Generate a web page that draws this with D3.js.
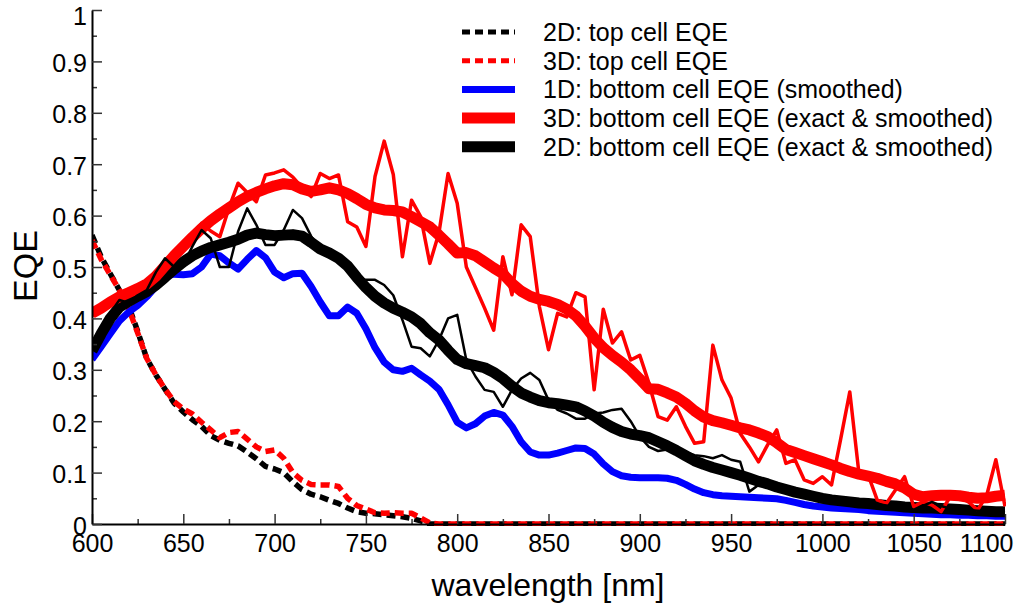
<!DOCTYPE html>
<html>
<head>
<meta charset="utf-8">
<script src="https://cdn.jsdelivr.net/npm/d3@7"></script>
<style>
  html, body { margin: 0; padding: 0; background: #fff; }
  svg { display: block; font-family: "Liberation Sans", Arial, sans-serif; }
</style>
</head>
<body>
<svg id="chart" width="1020" height="603"></svg>
<script>
// ---------------- DATA ----------------
const wavelengths = [600,605,610,615,620,625,630,635,640,645,650,655,660,665,670,675,680,685,690,695,
700,705,710,715,720,725,730,735,740,745,750,755,760,765,770,775,780,785,790,795,
800,805,810,815,820,825,830,835,840,845,850,855,860,865,870,875,880,885,890,895,
900,905,910,915,920,925,930,935,940,945,950,955,960,965,970,975,980,985,990,995,
1000,1005,1010,1015,1020,1025,1030,1035,1040,1045,1050,1055,1060,1065,1070,1075,1080,1085,1090,1095,1100];

const topCell2D = [0.562,0.520,0.487,0.455,0.425,0.375,0.322,0.290,0.262,0.235,0.218,0.203,0.190,0.172,0.163,0.157,0.152,0.140,0.127,0.112,
0.107,0.100,0.082,0.067,0.058,0.053,0.046,0.040,0.031,0.024,0.021,0.020,0.018,0.016,0.014,0.011,0.006,0,0,0,
0,0,0,0,0,0,0,0,0,0,0,0,0,0,0,0,0,0,0,0,
0,0,0,0,0,0,0,0,0,0,0,0,0,0,0,0,0,0,0,0,
0,0,0,0,0,0,0,0,0,0,0,0,0,0,0,0,0,0,0,0,0];

const topCell3D = [0.552,0.515,0.485,0.455,0.420,0.372,0.322,0.290,0.262,0.238,0.224,0.214,0.198,0.183,0.168,0.178,0.180,0.165,0.150,0.141,
0.144,0.128,0.100,0.085,0.077,0.076,0.076,0.073,0.050,0.036,0.029,0.022,0.021,0.022,0.021,0.021,0.012,0.002,0,0,
0,0,0,0,0,0,0,0,0,0,0,0,0,0,0,0,0,0,0,0,
0,0,0,0,0,0,0,0,0,0,0,0,0,0,0,0,0,0,0,0,
0,0,0,0,0,0,0,0,0,0,0,0,0,0,0,0,0,0,0,0,0];

const bottom1DSmoothed = [0.320,0.345,0.370,0.395,0.412,0.425,0.442,0.462,0.482,0.486,0.485,0.487,0.500,0.525,0.522,0.508,0.496,0.515,0.532,0.518,
0.490,0.479,0.487,0.488,0.462,0.432,0.405,0.405,0.422,0.410,0.380,0.343,0.315,0.300,0.297,0.303,0.290,0.278,0.262,0.232,
0.198,0.187,0.195,0.210,0.217,0.212,0.190,0.160,0.140,0.134,0.134,0.138,0.143,0.148,0.147,0.136,0.117,0.102,0.094,0.091,
0.090,0.090,0.090,0.089,0.085,0.077,0.068,0.061,0.057,0.055,0.054,0.053,0.052,0.051,0.050,0.049,0.046,0.042,0.038,0.035,
0.033,0.031,0.030,0.029,0.028,0.026,0.025,0.024,0.023,0.022,0.021,0.020,0.019,0.018,0.018,0.017,0.017,0.016,0.016,0.015,0.015];

const bottom3DSmoothed = [0.410,0.420,0.432,0.442,0.450,0.458,0.467,0.482,0.502,0.522,0.540,0.558,0.575,0.590,0.603,0.615,0.627,0.637,0.645,0.652,
0.658,0.662,0.660,0.652,0.647,0.650,0.654,0.650,0.643,0.633,0.622,0.615,0.611,0.610,0.607,0.598,0.588,0.578,0.562,0.545,
0.527,0.528,0.522,0.510,0.498,0.487,0.468,0.453,0.443,0.437,0.433,0.427,0.418,0.405,0.385,0.362,0.343,0.328,0.315,0.300,
0.282,0.263,0.262,0.255,0.247,0.235,0.220,0.208,0.201,0.197,0.192,0.187,0.183,0.177,0.170,0.158,0.145,0.139,0.133,0.127,
0.121,0.115,0.108,0.102,0.097,0.093,0.089,0.083,0.078,0.070,0.058,0.053,0.055,0.056,0.056,0.055,0.052,0.050,0.051,0.054,0.056];

const bottom3DExact = [0.405,0.418,0.430,0.440,0.450,0.462,0.470,0.485,0.500,0.522,0.540,0.555,0.585,0.570,0.559,0.615,0.663,0.645,0.627,0.679,
0.683,0.689,0.675,0.655,0.637,0.682,0.672,0.679,0.588,0.578,0.540,0.676,0.745,0.680,0.520,0.630,0.598,0.507,0.566,0.682,
0.624,0.500,0.460,0.420,0.377,0.520,0.446,0.582,0.559,0.423,0.339,0.410,0.403,0.450,0.442,0.261,0.418,0.352,0.374,0.319,
0.328,0.274,0.209,0.202,0.228,0.190,0.157,0.160,0.348,0.280,0.245,0.176,0.150,0.121,0.154,0.183,0.118,0.125,0.086,0.079,
0.092,0.076,0.165,0.257,0.099,0.096,0.047,0.040,0.066,0.092,0.034,0.043,0.037,0.024,0.053,0.053,0.043,0.027,0.056,0.125,0.034];

const bottom2DSmoothed = [0.337,0.370,0.400,0.422,0.433,0.443,0.452,0.465,0.480,0.496,0.510,0.522,0.531,0.538,0.543,0.548,0.554,0.562,0.566,0.563,
0.561,0.562,0.563,0.560,0.548,0.535,0.527,0.517,0.502,0.480,0.460,0.443,0.430,0.420,0.412,0.403,0.390,0.372,0.358,0.338,
0.320,0.312,0.308,0.304,0.295,0.283,0.268,0.255,0.247,0.240,0.236,0.234,0.231,0.228,0.220,0.210,0.198,0.188,0.180,0.175,
0.172,0.168,0.160,0.152,0.143,0.133,0.123,0.116,0.110,0.105,0.100,0.095,0.089,0.083,0.078,0.072,0.067,0.062,0.058,0.054,
0.050,0.047,0.045,0.043,0.041,0.040,0.038,0.036,0.035,0.033,0.032,0.031,0.031,0.030,0.029,0.028,0.027,0.026,0.025,0.024,0.024];

const bottom2DExact = [0.335,0.375,0.410,0.436,0.430,0.445,0.455,0.490,0.517,0.500,0.505,0.540,0.572,0.556,0.500,0.500,0.569,0.614,0.582,0.543,
0.543,0.572,0.611,0.595,0.560,0.535,0.527,0.517,0.500,0.480,0.475,0.475,0.465,0.445,0.397,0.345,0.342,0.326,0.358,0.400,
0.407,0.319,0.287,0.261,0.257,0.228,0.261,0.283,0.294,0.280,0.241,0.222,0.215,0.205,0.205,0.215,0.217,0.222,0.224,0.200,
0.170,0.150,0.142,0.145,0.148,0.140,0.134,0.132,0.128,0.134,0.125,0.121,0.063,0.076,0.080,0.075,0.068,0.063,0.058,0.055,
0.050,0.048,0.045,0.043,0.041,0.040,0.039,0.036,0.033,0.028,0.024,0.035,0.043,0.035,0.030,0.030,0.027,0.026,0.025,0.024,0.022];

const xMajorTicks = [600,650,700,750,800,850,900,950,1000,1050,1100];
const xMinorTicks = [625,675,725,775,825,875,925,975,1025,1075];
const yMajorTicks = [0,0.1,0.2,0.3,0.4,0.5,0.6,0.7,0.8,0.9,1];
const yMinorTicks = [0.05,0.15,0.25,0.35,0.45,0.55,0.65,0.75,0.85,0.95];

const legendLabels = [
  "2D: top cell EQE",
  "3D: top cell EQE",
  "1D: bottom cell EQE (smoothed)",
  "3D: bottom cell EQE (exact & smoothed)",
  "2D: bottom cell EQE (exact & smoothed)"
];

// ---------------- CHART ----------------
const svg = d3.select("#chart");
const plot = {left: 92, right: 1005, top: 10, bottom: 524};

const x = d3.scaleLinear().domain([600, 1100]).range([plot.left, plot.right]);
const y = d3.scaleLinear().domain([0, 1]).range([plot.bottom, plot.top]);

svg.append("defs").append("clipPath").attr("id", "clip")
  .append("rect").attr("x", plot.left).attr("y", 0)
  .attr("width", plot.right - plot.left + 1).attr("height", plot.bottom + 2);

const mk = vals => wavelengths.map((w, i) => [w, vals[i]]);
const line = d3.line().x(d => x(d[0])).y(d => y(d[1]));

const series = [
  {data: topCell2D, color: "#000", width: 5.5, dash: "9,5"},
  {data: topCell3D, color: "#ff0000", width: 5.5, dash: "9,5"},
  {data: bottom1DSmoothed, color: "#0000ff", width: 7},
  {data: bottom2DSmoothed, color: "#000", width: 11},
  {data: bottom3DSmoothed, color: "#ff0000", width: 11},
  {data: bottom3DExact, color: "#ff0000", width: 3.5},
  {data: bottom2DExact, color: "#000", width: 2.5}
];

const g = svg.append("g").attr("clip-path", "url(#clip)");
series.forEach(s => {
  g.append("path")
    .attr("d", line(mk(s.data)))
    .attr("fill", "none")
    .attr("stroke", s.color)
    .attr("stroke-width", s.width)
    .attr("stroke-linejoin", "round")
    .attr("stroke-dasharray", s.dash || null);
});

// axes
const fmt = d3.format("~g");
svg.append("g").attr("transform", `translate(0,${plot.bottom})`)
  .call(d3.axisBottom(x).tickValues(xMinorTicks).tickSize(-5).tickSizeOuter(0).tickFormat(""))
  .call(a => a.select(".domain").remove())
  .call(a => a.selectAll("line").attr("stroke", "#333").attr("stroke-width", 1.5));
svg.append("g").attr("transform", `translate(0,${plot.bottom})`)
  .call(d3.axisBottom(x).tickValues(xMajorTicks).tickSize(-10).tickSizeOuter(0).tickPadding(10).tickFormat(fmt))
  .call(a => a.select(".domain").attr("stroke", "#000").attr("stroke-width", 2))
  .call(a => a.selectAll("line").attr("stroke", "#333").attr("stroke-width", 1.5))
  .call(a => a.selectAll("text").attr("font-size", 25).attr("fill", "#000")
    .attr("font-family", "Liberation Sans, Arial, sans-serif"))
  .call(a => a.selectAll(".tick").filter(d => d === 1100).select("text")
    .attr("text-anchor", "end").attr("x", 8));

svg.append("g").attr("transform", `translate(${plot.left},0)`)
  .call(d3.axisLeft(y).tickValues(yMinorTicks).tickSize(-5).tickSizeOuter(0).tickFormat(""))
  .call(a => a.select(".domain").remove())
  .call(a => a.selectAll("line").attr("stroke", "#333").attr("stroke-width", 1.5));
svg.append("g").attr("transform", `translate(${plot.left},0)`)
  .call(d3.axisLeft(y).tickValues(yMajorTicks).tickSize(-10).tickSizeOuter(0).tickPadding(5).tickFormat(fmt))
  .call(a => a.select(".domain").attr("stroke", "#000").attr("stroke-width", 2))
  .call(a => a.selectAll("line").attr("stroke", "#333").attr("stroke-width", 1.5))
  .call(a => a.selectAll("text").attr("font-size", 25).attr("fill", "#000")
    .attr("font-family", "Liberation Sans, Arial, sans-serif").attr("y", 2))
  .call(a => a.selectAll(".tick").filter(d => d === 1).select("text").attr("y", 6));

// axis titles
svg.append("text").attr("x", 548).attr("y", 596).attr("text-anchor", "middle")
  .attr("font-size", 32).text("wavelength [nm]");
svg.append("text").attr("transform", "translate(37,266) rotate(-90)").attr("text-anchor", "middle")
  .attr("font-size", 34).text("EQE");

// legend
const legendStyles = [
  {color: "#000", width: 5, dash: "8,5"},
  {color: "#ff0000", width: 5, dash: "8,5"},
  {color: "#0000ff", width: 7},
  {color: "#ff0000", width: 11},
  {color: "#000", width: 11}
];
const legend = svg.append("g");
legendLabels.forEach((lab, i) => {
  const yy = 32 + i * 28.7;
  const st = legendStyles[i];
  legend.append("line").attr("x1", 462).attr("x2", 515).attr("y1", yy).attr("y2", yy)
    .attr("stroke", st.color).attr("stroke-width", st.width)
    .attr("stroke-dasharray", st.dash || null);
  legend.append("text").attr("x", 543).attr("y", yy).attr("dy", "0.36em")
    .attr("font-size", 25).attr("fill", "#000").text(lab);
});
</script>
</body>
</html>
